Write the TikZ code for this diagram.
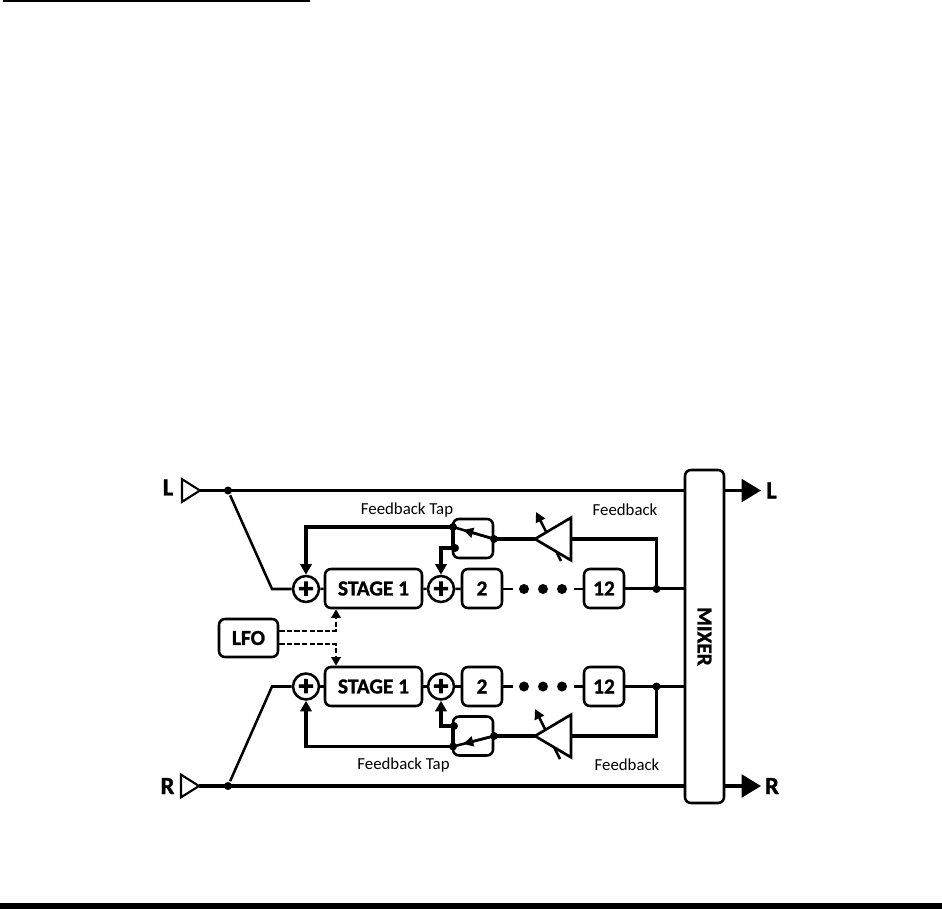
\documentclass[tikz,border=0pt]{standalone}
\usepackage{fontspec}
\setmainfont{Carlito}[BoldFeatures={FakeBold=1.2}]
\newfontfamily\plusfont{DejaVu Sans}[BoldFeatures={FakeBold=5}]
\usetikzlibrary{arrows.meta,calc,shapes.geometric}
\tikzset{every picture/.style={line width=1.9pt}}
\tikzset{
  blockbox/.style={draw,rounded corners=4.5pt,line width=1.9pt,fill=white,inner sep=0pt,font=\fontsize{16}{16}\selectfont\bfseries},
  sumnode/.style={draw,circle,line width=1.9pt,fill=white,inner sep=0pt,minimum size=19.5pt,font=\fontsize{16}{16}\plusfont\bfseries},
  dotnode/.style={circle,fill=black,inner sep=0pt,minimum size=6pt},
  bigdot/.style={circle,fill=black,inner sep=0pt,minimum size=7.5pt},
  inport/.style={isosceles triangle,isosceles triangle stretches,draw,line width=1.6pt,inner sep=0pt,outer sep=0pt,minimum height=13.5pt,minimum width=17pt,anchor=apex,shape border rotate=0},
  ampshape/.style={isosceles triangle,isosceles triangle stretches,draw,fill=white,line width=2pt,inner sep=0pt,outer sep=0pt,minimum height=27pt,minimum width=32pt,anchor=apex,shape border rotate=180},
  caption/.style={font=\fontsize{12.6}{12.6}\selectfont,inner sep=0pt},
  portlabel/.style={font=\fontsize{18.5}{18.5}\selectfont\bfseries,inner sep=0pt},
  bus/.style={line width=2.6pt},
  feed/.style={line width=2.6pt,-{Triangle[length=8pt,width=8.5pt]}},
  outarrow/.style={line width=2.3pt,-{Triangle[length=14.5pt,width=17pt]}},
  gainarrow/.style={line width=1.9pt,-{Triangle[length=7.5pt,width=7.5pt]}},
  lfoline/.style={line width=2pt,dash pattern=on 4pt off 1.7pt,-{Triangle[length=6.5pt,width=7pt]}}
}

\begin{document}
\begin{tikzpicture}[x=0.75pt,y=0.75pt,yscale=-1,xscale=1]
\useasboundingbox (0,0) rectangle (942,909);

%page rules
\fill (3,0) rectangle (310,2.5);
\fill (0,903) rectangle (942,909);

%Gain arrows, the amps are laid on top of them
\coordinate (gaintaila) at (561,561);
\coordinate (gainheada) at (536,512);
\coordinate (gaintailb) at (560,759);
\coordinate (gainheadb) at (535,709);
\draw [gainarrow] (gaintaila) -- (gainheada);
\draw [gainarrow] (gaintailb) -- (gainheadb);

%Mixer and ports
\node [blockbox,minimum width=29.25pt,minimum height=249.75pt] (mixer) at (704.5,636.5) {};
\node [font=\fontsize{16}{16}\selectfont\bfseries,inner sep=0pt,rotate=-90] (mixertext) at (704.5,636.5) {MIXER};
\node [inport] (inl) at (200,490.5) {};
\node [inport] (inr) at (199,786) {};
\node [portlabel] (labinl) at (168,487.5) {L};
\node [portlabel] (labinr) at (167.5,786) {R};
\node [portlabel] (laboutl) at (771.5,490.5) {L};
\node [portlabel] (laboutr) at (772,786) {R};
\coordinate (outl) at (761,490.5);
\coordinate (outr) at (761,786);

%Upper chain
\node [sumnode] (suma) at (306,589) {\raisebox{0.6pt}{+}};
\node [blockbox,minimum width=72.75pt,minimum height=29.25pt] (stagea) at (373.5,588.5) {STAGE 1};
\node [sumnode] (sumb) at (441,589) {\raisebox{0.6pt}{+}};
\node [blockbox,minimum width=30pt,minimum height=29.25pt] (twoa) at (482,588.5) {2};
\node [bigdot] (dota) at (524,589) {};
\node [bigdot] (dotb) at (543,589) {};
\node [bigdot] (dotc) at (562,589) {};
\node [blockbox,minimum width=30pt,minimum height=29.25pt] (lasta) at (604,588.5) {12};
\node [blockbox,minimum width=30pt,minimum height=29.25pt] (swa) at (473,538.5) {};
\node [ampshape] (ampa) at (535,539) {};
\coordinate (gapa) at (513,589);
\coordinate (gapb) at (574,589);

%Lower chain
\node [sumnode] (sumc) at (306,686.5) {\raisebox{0.6pt}{+}};
\node [blockbox,minimum width=72.75pt,minimum height=29.25pt] (stageb) at (373.5,686.5) {STAGE 1};
\node [sumnode] (sumd) at (441,686.5) {\raisebox{0.6pt}{+}};
\node [blockbox,minimum width=30pt,minimum height=29.25pt] (twob) at (482,686.5) {2};
\node [bigdot] (dotd) at (524,686.5) {};
\node [bigdot] (dote) at (543,686.5) {};
\node [bigdot] (dotf) at (562,686.5) {};
\node [blockbox,minimum width=30pt,minimum height=29.25pt] (lastb) at (604,686.5) {12};
\node [blockbox,minimum width=30pt,minimum height=29.25pt] (swb) at (473,736) {};
\node [ampshape] (ampb) at (535,736) {};
\coordinate (gapc) at (513,686.5);
\coordinate (gapd) at (574,686.5);

%LFO
\node [blockbox,minimum width=44.25pt,minimum height=28.5pt] (lfo) at (248.5,638) {LFO};

%Junctions
\node [dotnode] (tapl) at (228,490.5) {};
\node [dotnode] (tapr) at (228,786) {};
\node [dotnode] (fba) at (656.5,589) {};
\node [dotnode] (fbb) at (656.5,686.5) {};
\node [dotnode] (swaa) at (453,527) {};
\node [dotnode] (swab) at (455,548) {};
\node [dotnode] (swac) at (494,539) {};
\node [dotnode] (swba) at (453,746.5) {};
\node [dotnode] (swbb) at (454,726) {};
\node [dotnode] (swbc) at (494,736) {};
\coordinate (benda) at (272,589);
\coordinate (bendb) at (272,686.5);

%Through lines
\draw [bus] (inl.apex) -- (mixer.west |- inl.apex);
\draw [bus] (inr.apex) -- (mixer.west |- inr.apex);
\draw [outarrow] (mixer.east |- outl) -- (outl);
\draw [outarrow] (mixer.east |- outr) -- (outr);
\draw (tapl) -- (benda) -- (suma);
\draw (tapr) -- (bendb) -- (sumc);

%Signal chain
\draw (suma) -- (stagea);
\draw (stagea) -- (sumb);
\draw (sumb) -- (twoa);
\draw (twoa.east |- gapa) -- (gapa);
\draw (gapb) -- (lasta.west |- gapb);
\draw (lasta) -- (mixer.west |- lasta);
\draw (sumc) -- (stageb);
\draw (stageb) -- (sumd);
\draw (sumd) -- (twob);
\draw (twob.east |- gapc) -- (gapc);
\draw (gapd) -- (lastb.west |- gapd);
\draw (lastb) -- (mixer.west |- lastb);

%Feedback
\draw [bus] (fba.center) |- (ampa.lower side);
\draw [bus] (fbb.center) |- (ampb.lower side);
\draw [bus] (ampa.apex) -- (swac.center);
\draw [bus] (ampb.apex) -- (swbc.center);
\draw [feed] (swaa.center) -| (suma);
\draw [feed] (swab.center) -| (sumb);
\draw [feed] (swba.center) -| (sumc);
\draw [feed] (swbb.center) -| (sumd);
\draw [line width=2.4pt] (swaa.center) -- (swba |- swab);
\draw [line width=2.4pt] (swba.center) -- (swba |- swbb);
\draw [gainarrow] (swac.center) -- ($(swac)!0.75!(swaa)$);
\draw [line width=1.9pt] (swac.center) -- (swaa.center);
\draw [gainarrow] (swbc.center) -- ($(swbc)!0.75!(swba)$);
\draw [line width=1.9pt] (swbc.center) -- (swba.center);

%LFO lines
\draw [lfoline] (lfo.east |- 0,631) -| (stagea.south -| 336,0);
\draw [lfoline] (lfo.east |- 0,644) -| (stageb.north -| 336,0);

% Text Node
\node [caption] (taptexta) at (407,510) {Feedback Tap};
\node [caption] (fbtexta) at (625,510) {Feedback};
\node [caption] (taptextb) at (403.5,765) {Feedback Tap};
\node [caption] (fbtextb) at (627,765) {Feedback};

\end{tikzpicture}
\end{document}
